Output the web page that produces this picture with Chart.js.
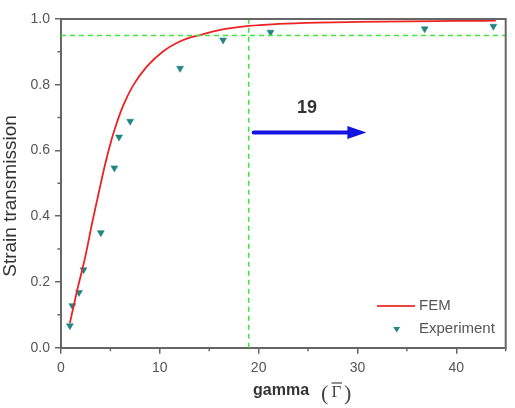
<!DOCTYPE html>
<html>
<head>
<meta charset="utf-8">
<script src="https://cdn.jsdelivr.net/npm/chart.js@4.4.1/dist/chart.umd.min.js"></script>
<style>
html, body { margin:0; padding:0; background:#fff; }
#wrap { width:515px; height:408px; }
</style>
</head>
<body>
<div id="wrap"><canvas id="chart" width="515" height="408"></canvas></div>
<script>
// FEM curve
var femX = [0.9, 1.6, 2.46, 3.14, 3.81, 4.49, 5.16, 5.6, 6.3, 7.3, 8.7, 10.35, 11.7, 13.1, 14.2, 16, 19, 22, 26, 30, 35, 40, 44];
var femY = [0.075, 0.17, 0.277, 0.378, 0.47, 0.561, 0.638, 0.68, 0.737, 0.798, 0.856, 0.902, 0.927, 0.944, 0.952, 0.966, 0.979, 0.985, 0.989, 0.991, 0.993, 0.994, 0.995];
// experiment points
var expX = [0.9, 1.15, 1.82, 2.28, 4.03, 5.4, 5.87, 7.0, 12.05, 16.4, 21.2, 36.8, 43.75];
var expY = [0.067, 0.128, 0.168, 0.237, 0.35, 0.547, 0.641, 0.689, 0.85, 0.936, 0.96, 0.970, 0.978];
// guide lines + arrow
var levelY = 0.95;
var gammaX = 19;
var arrowFrom = [19.5, 0.655];
var arrowTo = [30.9, 0.655];
var arrowLabel = '19';
var xMinor = [5, 15, 25, 35, 45];
var yMinor = [0.1, 0.3, 0.5, 0.7, 0.9];

function pts(xs, ys) {
  return xs.map(function (x, i) { return { x: x, y: ys[i] }; });
}

var extras = {
  id: 'extras',
  afterDraw: function (chart) {
    var ctx = chart.ctx, a = chart.chartArea;
    var xs = chart.scales.x, ys = chart.scales.y;
    ctx.save();
    // top + right frame
    ctx.strokeStyle = '#666';
    ctx.lineWidth = 2;
    ctx.beginPath();
    ctx.moveTo(a.left, a.top); ctx.lineTo(a.right, a.top); ctx.lineTo(a.right, a.bottom);
    ctx.stroke();
    // minor ticks
    ctx.lineWidth = 1.5;
    ctx.beginPath();
    xMinor.forEach(function (v) {
      var px = xs.getPixelForValue(v);
      ctx.moveTo(px, a.bottom); ctx.lineTo(px, a.bottom + 3.5);
    });
    yMinor.forEach(function (v) {
      var py = ys.getPixelForValue(v);
      ctx.moveTo(a.left, py); ctx.lineTo(a.left - 3.5, py);
    });
    ctx.stroke();

    // arrow
    var x0 = xs.getPixelForValue(arrowFrom[0]), y0 = ys.getPixelForValue(arrowFrom[1]);
    var x1 = xs.getPixelForValue(arrowTo[0]);
    ctx.strokeStyle = '#1414e0';
    ctx.fillStyle = '#1414e0';
    ctx.lineWidth = 4;
    ctx.lineCap = 'round';
    ctx.beginPath();
    ctx.moveTo(x0, y0); ctx.lineTo(x1 - 14, y0);
    ctx.stroke();
    ctx.beginPath();
    ctx.moveTo(x1, y0); ctx.lineTo(x1 - 19, y0 - 6.5); ctx.lineTo(x1 - 19, y0 + 6.5);
    ctx.closePath();
    ctx.fill();

    ctx.fillStyle = '#333';
    ctx.font = 'bold 18px "Liberation Sans", Arial, sans-serif';
    ctx.textAlign = 'center';
    ctx.textBaseline = 'middle';
    ctx.fillText(arrowLabel, xs.getPixelForValue(24.9), ys.getPixelForValue(0.728));

    // legend
    ctx.strokeStyle = '#ee4444';
    ctx.lineWidth = 2;
    ctx.lineCap = 'butt';
    ctx.beginPath();
    ctx.moveTo(377, 306); ctx.lineTo(415, 306);
    ctx.stroke();
    ctx.fillStyle = '#1f8585';
    ctx.beginPath();
    ctx.moveTo(393.3, 327); ctx.lineTo(400.1, 327); ctx.lineTo(396.7, 332.5);
    ctx.closePath();
    ctx.fill();
    ctx.fillStyle = '#555';
    ctx.font = '15px "Liberation Sans", Arial, sans-serif';
    ctx.textAlign = 'left';
    ctx.fillText('FEM', 419, 306);
    ctx.fillText('Experiment', 419, 329);

    // y title
    ctx.save();
    ctx.translate(11, 196);
    ctx.rotate(-Math.PI / 2);
    ctx.fillStyle = '#333';
    ctx.font = '19px "Liberation Sans", Arial, sans-serif';
    ctx.textAlign = 'center';
    ctx.fillText('Strain transmission', 0, 0);
    ctx.restore();

    // x title
    ctx.textBaseline = 'alphabetic';
    ctx.fillStyle = '#333';
    ctx.font = 'bold 16px "Liberation Sans", Arial, sans-serif';
    ctx.fillText('gamma', 253, 395);
    ctx.font = '22px "Liberation Serif", serif';
    ctx.fillStyle = '#444';
    ctx.fillText('(', 321, 400);
    ctx.fillText(')', 344, 400);
    ctx.font = '17px "Liberation Serif", serif';
    ctx.fillText('\u0393', 331.5, 397);
    ctx.strokeStyle = '#444';
    ctx.lineWidth = 1.2;
    ctx.beginPath();
    ctx.moveTo(331.5, 383); ctx.lineTo(342, 383);
    ctx.stroke();
    ctx.restore();
  }
};

var ctx = document.getElementById('chart');
var chart = new Chart(ctx, {
  type: 'scatter',
  data: {
    datasets: [
      {
        label: 'level',
        type: 'line',
        data: pts([0, 45], [levelY, levelY]),
        borderColor: '#3ee83e',
        borderWidth: 1.5,
        borderDash: [5, 4],
        pointRadius: 0
      },
      {
        label: 'gamma',
        type: 'line',
        data: pts([gammaX, gammaX], [0, 1]),
        borderColor: '#3ee83e',
        borderWidth: 1.5,
        borderDash: [5, 4],
        pointRadius: 0
      },
      {
        label: 'FEM',
        type: 'line',
        data: pts(femX, femY),
        borderColor: '#ec2323',
        borderWidth: 1.8,
        pointRadius: 0,
        cubicInterpolationMode: 'monotone'
      },
      {
        label: 'Experiment',
        data: pts(expX, expY),
        pointStyle: 'triangle',
        rotation: 180,
        radius: 4,
        backgroundColor: '#1f8585',
        borderColor: '#1f7a7a',
        borderWidth: 0.5
      }
    ]
  },
  options: {
    responsive: false,
    animation: false,
    layout: { padding: { top: 19, right: 9.3, left: 0, bottom: 0 } },
    plugins: { legend: { display: false }, tooltip: { enabled: false } },
    scales: {
      x: {
        type: 'linear',
        min: 0, max: 45,
        afterFit: function (s) { s.height = 60.3; },
        border: { display: true, color: '#666', width: 2 },
        grid: { drawOnChartArea: false, drawTicks: true, tickLength: 6, color: '#666', lineWidth: 1.5 },
        ticks: {
          stepSize: 10, includeBounds: false, padding: 6,
          color: '#555', font: { family: '"Liberation Sans", Arial, sans-serif', size: 14 }
        }
      },
      y: {
        min: 0, max: 1,
        afterFit: function (s) { s.width = 61; },
        border: { display: true, color: '#666', width: 2 },
        grid: { drawOnChartArea: false, drawTicks: true, tickLength: 6, color: '#666', lineWidth: 1.5 },
        ticks: {
          stepSize: 0.2, padding: 5,
          color: '#555', font: { family: '"Liberation Sans", Arial, sans-serif', size: 14 },
          callback: function (v) { return v.toFixed(1); }
        }
      }
    }
  },
  plugins: [extras]
});
</script>
</body>
</html>
